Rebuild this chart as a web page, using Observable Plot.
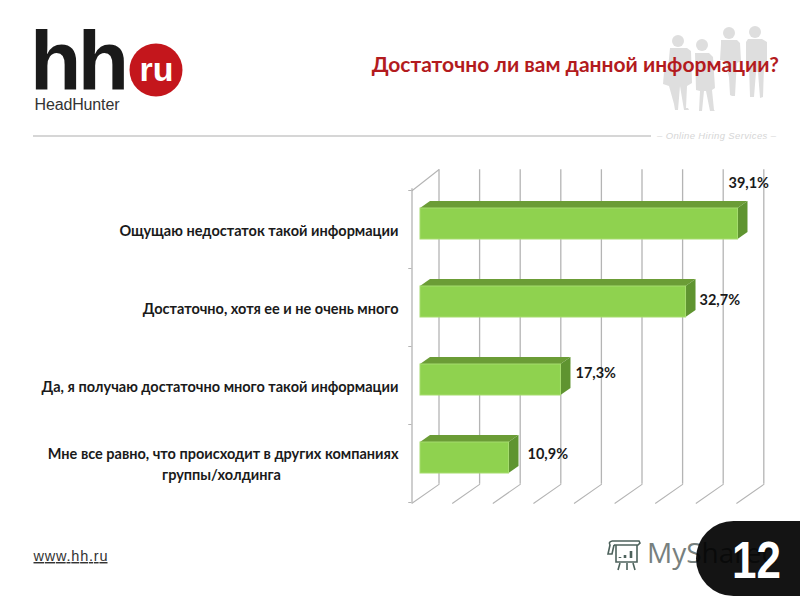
<!DOCTYPE html>
<html lang="ru">
<head>
<meta charset="utf-8">
<style>
html,body{margin:0;padding:0;background:#fff;width:800px;height:600px;overflow:hidden}
#decor,#chart{position:absolute;left:0;top:0}
</style>
<script src="https://cdn.jsdelivr.net/npm/d3@7"></script>
<script src="https://cdn.jsdelivr.net/npm/@observablehq/plot@0.6"></script>
</head>
<body>
<svg id="decor" width="800" height="600" viewBox="0 0 800 600">
  <defs><filter id="soft"><feGaussianBlur stdDeviation="0.7"/></filter></defs>
  <g fill="#dedede" filter="url(#soft)">
    <circle cx="678" cy="41" r="6"/><path d="M670 48h17l4 3 1 32-5 3-1 22h2l1 2h-5l-4-24-2 24h-3l-1-6-5-18-6-2 1-12 4-3z"/>
    <circle cx="702" cy="45" r="6"/><path d="M695 53h14l4 4 2 31-3 2 2 20 1 1h-5l-4-20-2 0-2 20h-3l1-20-4-1z"/>
    <circle cx="729" cy="33" r="6"/><path d="M721 40h16l3 3 1 18-4 2-1 14-1 19h-3l-2-1-1-18-3-12-1-4-5-1 1-16z"/>
    <circle cx="755" cy="32" r="6"/><path d="M748 39h14l5 3v22l-3 2-1 31-3 1-2-26-2 0-2 25h-4l-1-32-3-1 0-22z"/>
  </g>
  <text x="779" y="71.5" text-anchor="end" font-size="21" font-weight="700" fill="#b31b1e" style="font-family:Lato,'Open Sans'">Достаточно ли вам данной информации?</text>

  <text x="30" y="89.5" font-size="84" font-weight="700" fill="#1a1a1a" style="font-family:'Liberation Sans'" letter-spacing="-3.5">hh</text>
  <circle cx="156" cy="70" r="26.5" fill="#c4161c"/>
  <text x="156.5" y="81" text-anchor="middle" font-size="34" font-weight="700" fill="#fff" style="font-family:'Liberation Sans'">ru</text>
  <text x="34.5" y="110" font-size="16" fill="#333" style="font-family:'Liberation Sans'" textLength="85">HeadHunter</text>

  <line x1="33" x2="651" y1="136" y2="136" stroke="#c9c9c9" stroke-width="1.6"/>
  <text x="657" y="139" font-size="9.5" font-style="italic" fill="#d6d6d6" style="font-family:'Liberation Sans'" textLength="119">– Online Hiring Services –</text>

  <text x="33.5" y="561" font-size="14.5" fill="#333" text-decoration="underline" style="font-family:'Liberation Sans'" textLength="74">www.hh.ru</text>

  <g fill="none" stroke="#4d625c" stroke-width="1.6">
    <path d="M612 541h27l1 2-2 2h-24M616 545v17h21v-17M612 541c-3 1-3 2-2 4l-2 9h4l2-9"/>
    <path d="M620 563l-2 7M627 563v7M633 563l2 7"/>
    <path d="M620 557v1M625 555v3M631 551v7" stroke-width="2.6"/>
  </g>
  <text x="647" y="563" font-size="28" fill="#77807e" style="font-family:'Open Sans'">MyShared</text>
  <rect x="696" y="521" width="160" height="75" rx="37.5" fill="#000" fill-opacity="0.92"/>
  <text x="756.5" y="578" text-anchor="middle" font-size="51" font-weight="700" fill="#fff" style="font-family:'Liberation Sans'" textLength="49" lengthAdjust="spacingAndGlyphs">12</text>
</svg>
<div id="chart"></div>
<script>
const categories = [
  "Ощущаю недостаток такой информации",
  "Достаточно, хотя ее и не очень много",
  "Да, я получаю достаточно много такой информации",
  "Мне все равно, что происходит в других компаниях"
];
const categoryContinuation = "группы/холдинга";
const values = [39.1, 32.7, 17.3, 10.9];
const valueLabels = ["39,1%", "32,7%", "17,3%", "10,9%"];
const xTicks = [0, 5, 10, 15, 20, 25, 30, 35, 40];

const table = categories.map((c, i) => ({category: c, value: values[i], label: valueLabels[i]}));

// Layout of the pseudo-3D box
const pxPerUnit = 8.12, barDx = 8.5, depthX = 10, depthY = 7, grid = "#b4b4b4";
const font = "Lato, Open Sans";

// Shears each bar rectangle into a parallelogram, to draw the 3D faces.
const shear = (kind) => (index, scales, values, dims, ctx, next) => {
  const g = next(index, scales, values, dims, ctx);
  for (const r of g.querySelectorAll("rect")) {
    const x = +r.getAttribute("x"), y = +r.getAttribute("y"), h = +r.getAttribute("height");
    r.setAttribute("transform", kind === "top"
      ? `translate(${x},${y + h}) skewX(${-Math.atan(depthX / depthY) * 180 / Math.PI}) translate(${-x},${-(y + h)})`
      : `translate(${x},${y}) skewY(${-Math.atan(depthY / depthX) * 180 / Math.PI}) translate(${-x},${-y})`);
  }
  return g;
};
const stroke1 = {draw(c, l) { c.moveTo(0, 0); c.lineTo(0, -l); }};
const labelOffsets = [[-1, -41], [22, -2], [23, -7], [27, -4]];

const plot = Plot.plot({
  width: 800, height: 600,
  marginLeft: 411.5, marginRight: 63.7, marginTop: 183.2, marginBottom: 102.2,
  style: {background: "transparent"},
  x: {domain: [0, 40], axis: null},
  y: {domain: categories, axis: null, paddingInner: 0.606, paddingOuter: 0.303},
  marks: [
    // back wall grid, floor lines, left wall
    Plot.ruleX(xTicks, {dx: 27, dy: -14, stroke: grid, strokeWidth: 1.3}),
    Plot.vector(xTicks, {x: d => d, frameAnchor: "bottom", dy: 5, length: 33, rotate: 55, anchor: "start", shape: stroke1, stroke: grid, strokeWidth: 1.1}),
    Plot.vector([0], {x: d => d, frameAnchor: "top", dy: 7, length: 34, rotate: 52, anchor: "start", shape: stroke1, stroke: grid, strokeWidth: 1.1}),
    Plot.ruleX([0], {dy: 5, stroke: grid, strokeWidth: 1.3}),
    Plot.ruleY(categories, {y: d => d, x1: -0.4, x2: 0, dy: -33.5, stroke: grid}),
    Plot.ruleY(categories.slice(-1), {y: d => d, x1: -0.4, x2: 0, dy: 44.5, stroke: grid}),
    // bars: top, side, front
    Plot.barX(table, {x: "value", y: "category", insetTop: 31 - depthY, dx: barDx, dy: -31, fill: "#6b9c36", render: shear("top")}),
    Plot.barX(table, {x1: "value", x2: d => d.value + depthX / pxPerUnit, y: "category", dx: barDx, fill: "#5f9430", render: shear("side")}),
    Plot.barX(table, {x: "value", y: "category", dx: barDx, fill: "#8fd24f", stroke: "#a6dc6e", strokeWidth: 1}),
    // category labels
    Plot.text(table.slice(0, 3), {x: 0, y: "category", text: "category", textAnchor: "end", dx: -13.5, dy: 7, fontFamily: font, fontSize: 14.5, fontWeight: 700, fill: "#1a1a1a"}),
    Plot.text(table.slice(3), {x: 0, y: "category", text: "category", textAnchor: "end", dx: -13.5, dy: -3.5, fontFamily: font, fontSize: 14.5, fontWeight: 700, fill: "#1a1a1a"}),
    Plot.text(table.slice(3), {x: 0, y: "category", text: () => categoryContinuation, textAnchor: "middle", dx: -190.5, dy: 17.5, fontFamily: font, fontSize: 14.5, fontWeight: 700, fill: "#1a1a1a"}),
    // value labels
    ...table.map((d, i) => Plot.text([d], {x: "value", y: "category", text: "label", textAnchor: "start", dx: labelOffsets[i][0], dy: labelOffsets[i][1], fontFamily: font, fontSize: 14.5, fontWeight: 700, fill: "#1a1a1a"}))
  ]
});
document.getElementById("chart").append(plot);
</script>
</body>
</html>
